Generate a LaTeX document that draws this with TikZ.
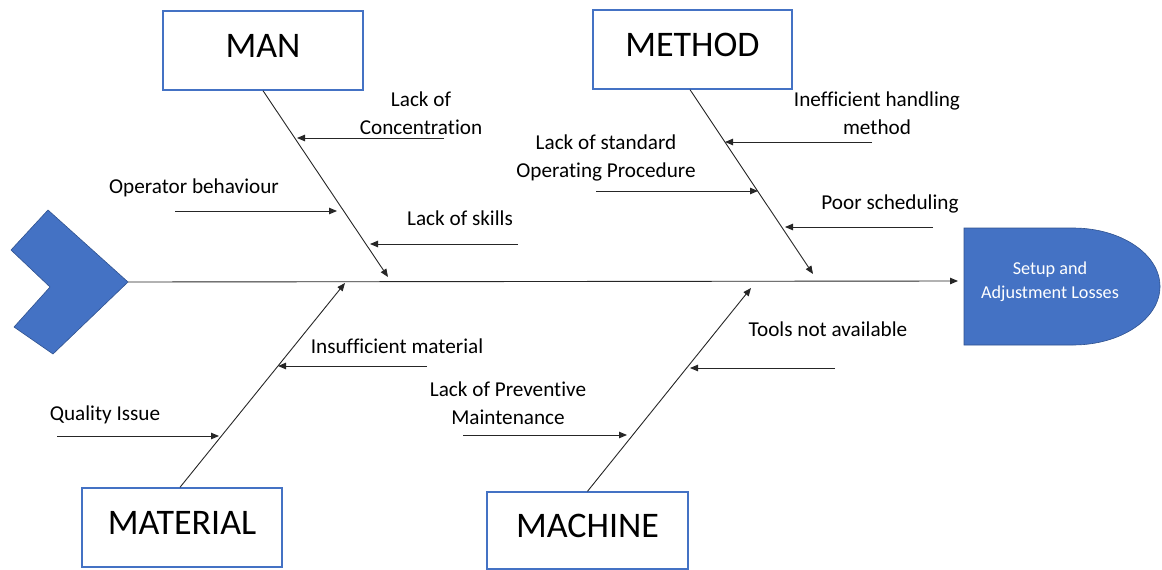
\documentclass[tikz,border=0pt]{standalone}
\usepackage{fontspec}
\setmainfont{Carlito}[Ligatures=NoCommon]
\usetikzlibrary{arrows.meta}
\definecolor{office}{HTML}{4472C4}
\definecolor{officedark}{HTML}{2F528F}
\begin{document}
\begin{tikzpicture}[x=1pt,y=-1pt,
  catbox/.style={draw=office, line width=1.4pt, fill=white, minimum width=200pt,
    minimum height=79pt, inner sep=0pt, text depth=10pt,
    font=\fontsize{36}{42}\selectfont},
  arr/.style={draw=black!85, line width=0.9pt, -{Triangle[length=8pt,width=6.5pt]}},
  lbl/.style={font=\fontsize{21.2}{28}\selectfont, align=center, inner sep=0pt},
]
\useasboundingbox (0,0) rectangle (1162,570);

% tail chevron
\fill[office, draw=officedark, line width=0.6pt]
  (48,210) -- (128,282) -- (53,354) -- (14,327) -- (50,287) -- (11,250) -- cycle;
\coordinate (tail) at (128,282);

% effect head
\fill[office, draw=officedark, line width=0.6pt]
  (964,228) -- (1073,228) arc[start angle=-90, end angle=90, x radius=87, y radius=58.5]
  -- (964,345) -- cycle;
\node[font=\fontsize{18.2}{24}\selectfont, text=white, align=center] (effect)
  at (1050,282) {Setup and\\Adjustment Losses};
\coordinate (effectin) at (958,281);

% spine
\draw[arr] (tail) -- (effectin);

% category boxes
\node[catbox] (man) at (263,50.5) {MAN};
\node[catbox, minimum width=199pt] (method) at (692.5,49.5) {METHOD};
\node[catbox] (material) at (182,527.5) {MATERIAL};
\node[catbox, minimum width=201pt, minimum height=77pt] (machine) at (587.5,530.5) {MACHINE};

% bones meeting the spine
\coordinate (manhit) at (388,277);
\coordinate (methodhit) at (813,274);
\coordinate (materialhit) at (345,283);
\coordinate (machinehit) at (751,288);
\draw[arr] (man.south) -- (manhit);
\draw[arr] ([xshift=-2.5pt]method.south) -- (methodhit);
\draw[arr] ([xshift=-2pt]material.north) -- (materialhit);
\draw[arr] (machine.north) -- (machinehit);

% causes: MAN
\coordinate (c1s) at (444,138); \coordinate (c1e) at (297,138);
\coordinate (c2s) at (175,211); \coordinate (c2e) at (337,211);
\coordinate (c3s) at (518,244); \coordinate (c3e) at (370,244);
\draw[arr] (c1s) -- (c1e);
\draw[arr] (c2s) -- (c2e);
\draw[arr] (c3s) -- (c3e);
\node[lbl] (l1) at (421,113) {Lack of\\Concentration};
\node[lbl] (l2) at (194,188) {Operator behaviour};
\node[lbl] (l3) at (460,218) {Lack of skills};

% causes: METHOD
\coordinate (c4s) at (872,142); \coordinate (c4e) at (725,142);
\coordinate (c5s) at (596,191); \coordinate (c5e) at (758,191);
\coordinate (c6s) at (933,227); \coordinate (c6e) at (785,227);
\draw[arr] (c4s) -- (c4e);
\draw[arr] (c5s) -- (c5e);
\draw[arr] (c6s) -- (c6e);
\node[lbl] (l4) at (877,113) {Inefficient handling\\method};
\node[lbl] (l5) at (606,158) {Lack of standard\\Operating Procedure};
\node[lbl] (l6) at (890,204) {Poor scheduling};

% causes: MATERIAL
\coordinate (c7s) at (427,366); \coordinate (c7e) at (278,366);
\coordinate (c8s) at (57,436); \coordinate (c8e) at (219,436);
\draw[arr] (c7s) -- (c7e);
\draw[arr] (c8s) -- (c8e);
\node[lbl] (l7) at (397,346) {Insufficient material};
\node[lbl] (l8) at (105,415) {Quality Issue};

% causes: MACHINE
\coordinate (c9s) at (835,368); \coordinate (c9e) at (690,368);
\coordinate (c10s) at (463,435); \coordinate (c10e) at (627,435);
\draw[arr] (c9s) -- (c9e);
\draw[arr] (c10s) -- (c10e);
\node[lbl] (l9) at (828,329) {Tools not available};
\node[lbl] (l10) at (508,403) {Lack of Preventive\\Maintenance};
\end{tikzpicture}
\end{document}
